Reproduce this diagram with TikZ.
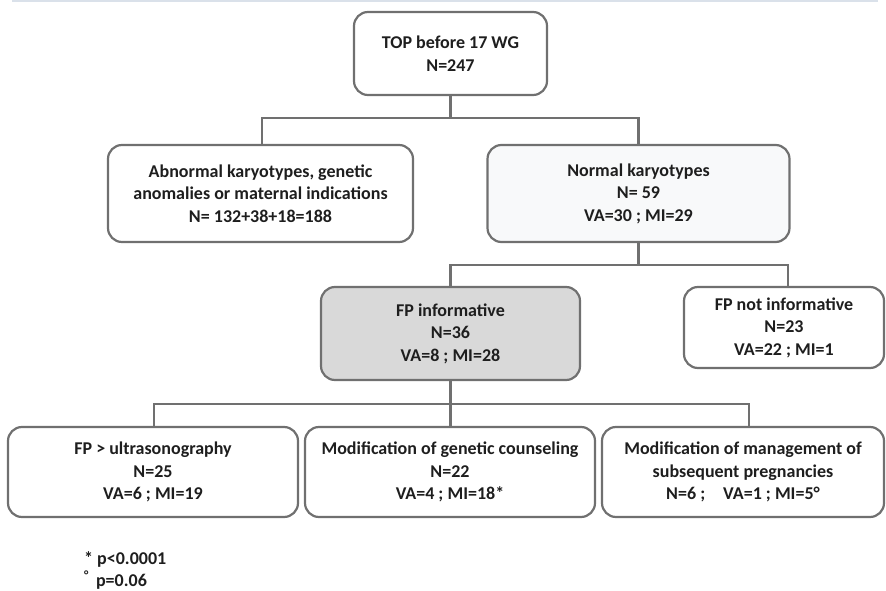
\documentclass[tikz,border=0pt]{standalone}
\usepackage{fontspec}
\setmainfont{Carlito}
\usetikzlibrary{positioning}
\definecolor{linegray}{RGB}{112,112,112}
\definecolor{textgray}{RGB}{30,30,30}
\definecolor{boxgray}{RGB}{217,217,217}
\definecolor{boxwhite}{RGB}{248,249,250}
\definecolor{rulesky}{RGB}{218,225,234}

\begin{document}
\begin{tikzpicture}[x=1pt,y=-1pt,
every node/.style={font=\bfseries\fontsize{18}{22.5}\selectfont,text=textgray},
box/.style={draw=linegray,line width=2.2pt,rounded corners=14pt,align=center,inner sep=0pt,fill=white},
link/.style={draw=linegray,line width=2.2pt}]
\useasboundingbox (0,0) rectangle (886,591);
\draw[rulesky,line width=2.5pt] (12,1) -- (878,1);
\node[box,minimum width=193pt,minimum height=83pt] (top) at (450.5,53.5) {TOP before 17 WG\\N=247};
\node[box,minimum width=305pt,minimum height=97pt] (abn) at (260.5,193.5) {Abnormal karyotypes, genetic\\anomalies or maternal indications\\N= 132+38+18=188};
\node[box,fill=boxwhite,minimum width=302pt,minimum height=97pt] (norm) at (638.5,193.5) {Normal karyotypes\\N= 59\\VA=30 ; MI=29};
\node[box,fill=boxgray,minimum width=259pt,minimum height=93pt] (fpinf) at (450.5,333.5) {FP informative\\N=36\\VA=8 ; MI=28};
\node[box,minimum width=200pt,minimum height=81pt] (fpnot) at (784,327.5) {FP not informative\\N=23\\VA=22 ; MI=1};
\node[box,minimum width=290pt,minimum height=90pt] (us) at (153,472) {FP > ultrasonography\\N=25\\VA=6 ; MI=19};
\node[box,minimum width=290pt,minimum height=90pt] (gc) at (450,472) {Modification of genetic counseling\\N=22\\VA=4 ; MI=18*};
\node[box,minimum width=282pt,minimum height=90pt] (mgmt) at (743,472) {Modification of management of\\subsequent pregnancies\\N=6 ;\quad VA=1 ; MI=5°};
\coordinate (j1) at (450.5,118);
\coordinate (j2) at (638.5,265);
\coordinate (j3) at (450.5,404);
\draw[link] (top.south) -- (j1) -| ([xshift=1.5pt]abn.north);
\draw[link] (j1) -| (norm.north);
\draw[link] (norm.south) -- (j2) -| (fpinf.north);
\draw[link] (j2) -| ([xshift=4pt]fpnot.north);
\draw[link] (fpinf.south) -- (j3) -| ([xshift=1pt]us.north);
\draw[link] (j3) -- (gc.north -| j3);
\draw[link] (j3) -| ([xshift=6pt]mgmt.north);
\node[anchor=west,inner sep=0pt] (note1) at (84,559) {* p<0.0001};
\node[anchor=west,inner sep=0pt] (note2) at (84,580) {\textsuperscript{°}\, p=0.06};
\end{tikzpicture}
\end{document}
